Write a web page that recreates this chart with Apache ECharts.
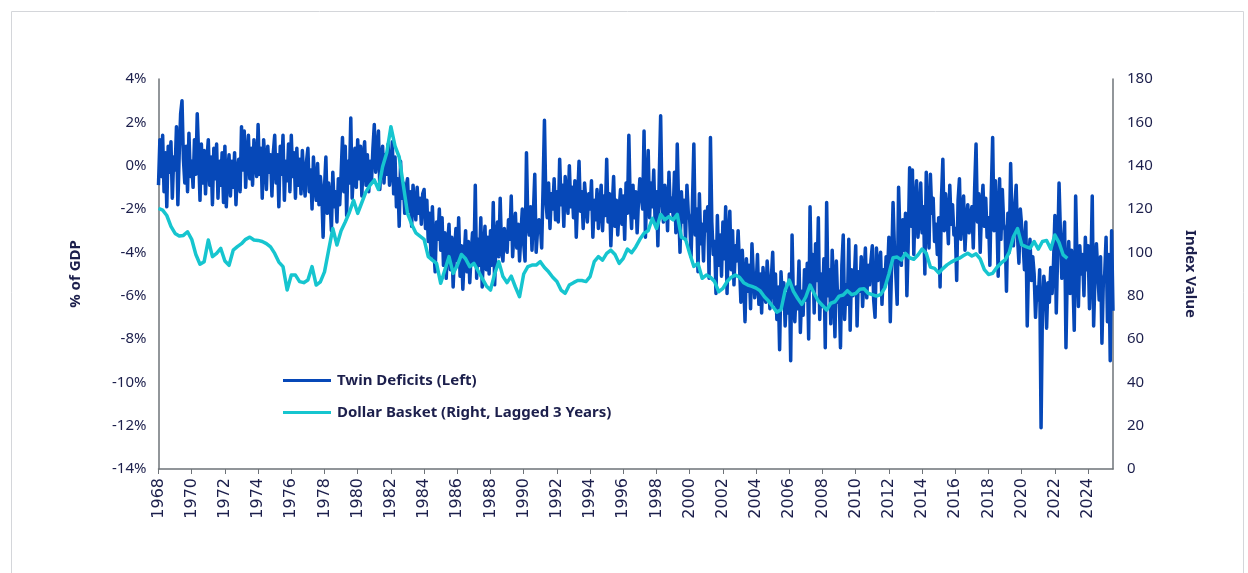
<!DOCTYPE html>
<html>
<head>
<meta charset="utf-8">
<title>Twin Deficits vs Dollar Basket</title>
<script src="https://cdn.jsdelivr.net/npm/echarts@6/dist/echarts.min.js"></script>
<style>
  html, body { margin: 0; padding: 0; background: #fff; }
  #chart { width: 1248px; height: 573px; }
</style>
</head>
<body>
<div id="chart"></div>
<script>
// monthly series starts Jan 1968, quarterly series starts Q1 1968
const startYear = 1968;
const yearTicks = [1968, 1970, 1972, 1974, 1976, 1978, 1980, 1982, 1984, 1986, 1988, 1990, 1992, 1994,
  1996, 1998, 2000, 2002, 2004, 2006, 2008, 2010, 2012, 2014, 2016, 2018, 2020, 2022, 2024];

// Twin deficits, % of GDP, monthly (left axis)
const twinDeficits = [
  -0.9, 1.2, -0.5, 1.4, -1.2, 0.6, -1.9, 0.9, -0.3, 1.1, -1.5, 0.4,
  -0.2, 1.8, -1.8, 0.6, 2.4, 3.0, 0.3, -0.8, 0.9, -1.2, 1.5, -0.5,
  0.2, -1.0, 1.2, -0.4, 2.4, 0.5, -1.6, 1.0, -0.8, 0.7, -1.3, 0.3,
  1.2, -0.9, 0.4, -1.8, 0.8, -0.6, 1.0, -1.5, 0.2, -0.9, 0.6, -1.7,
  0.9, -1.9, -0.3, 0.5, -1.4, 0.2, -1.0, 0.6, -1.8, -0.2, 0.3, -1.2,
  1.8, -0.2, 1.6, -1.0, 0.5, 1.4, -0.6, 0.8, -0.9, 1.2, 0.1, -0.5,
  1.9, -0.4, 0.8, -1.5, 1.2, 0.2, -1.1, 0.9, -0.3, 0.5, -1.4, 0.6,
  1.4, -0.8, 0.5, -1.9, 0.9, -0.4, 1.4, -1.6, 0.2, -0.7, 1.0, -1.2,
  1.4, -0.5, 0.6, -1.5, 0.8, -0.9, 0.3, -1.3, 0.7, -0.6, -1.4, 0.2,
  0.8, -1.2, -0.2, -2.0, 0.4, -0.9, -1.6, 0.1, -1.8, -0.5, -1.2, -3.3,
  -1.0, 0.4, -2.2, -0.8, -1.5, -3.0, -0.3, -1.9, -1.2, -2.6, -0.6, -1.8,
  -0.4, 1.3, -1.2, 0.9, -2.3, 0.2, -0.8, 2.2, -1.5, -0.2, 0.8, -1.0,
  1.2, -0.6, 0.9, -1.4, 0.4, 1.1, -0.9, 0.5, -1.2, 0.2, -0.7, 0.8,
  1.9, -0.3, 0.6, 1.6, -1.1, 0.3, 0.9, -0.8, 0.5, -0.4, 1.0, -0.9,
  -0.2, 1.1, -1.3, 0.4, -1.9, -0.6, -2.8, 0.2, -1.5, -0.8, -2.2, -1.0,
  -0.6, -2.1, -1.2, -2.8, -0.9, -1.8, -2.5, -1.0, -2.2, -1.5, -2.7, -1.3,
  -1.1, -2.9, -1.6, -3.5, -2.2, -4.2, -1.9, -3.8, -4.9, -2.6, -3.4, -2.0,
  -3.9, -2.4, -4.6, -3.1, -5.2, -3.6, -2.7, -4.8, -3.3, -5.6, -4.0, -2.9,
  -4.4, -2.4, -5.1, -3.7, -5.7, -4.2, -3.0, -4.9, -3.5, -5.4, -4.1, -3.1,
  -4.5, -0.9, -5.2, -3.4, -4.6, -2.4, -5.6, -3.9, -2.8, -4.8, -3.3, -5.0,
  -3.0, -4.6, -1.7, -5.5, -3.5, -2.6, -4.2, -1.5, -3.9, -4.4, -2.9, -3.6,
  -4.0, -2.5, -3.4, -1.4, -4.2, -3.0, -2.2, -3.8, -2.7, -4.4, -3.1, -2.0,
  -3.6, -4.4, 0.6, -2.6, -3.2, -1.9, -3.9, -2.2, -0.4, -4.0, -3.0, -2.5,
  -2.7, -3.8, -1.0, 2.1, -1.6, -2.4, -0.8, -2.9, -1.3, -2.0, -0.6, -2.5,
  -1.2, -2.6, 0.3, -1.8, -0.9, -2.8, -0.5, -1.5, -2.2, 0.0, -1.9, -1.0,
  -2.4, -0.7, -3.3, -1.5, 0.2, -2.1, -1.2, -2.9, -0.8, -1.7, -2.6, -1.3,
  -2.0, -0.7, -3.3, -1.6, -2.5, -1.1, -2.9, -1.9, -0.9, -3.0, -1.4, -2.3,
  0.3, -2.6, -1.3, -3.7, -1.9, -0.5, -2.8, -1.6, -3.2, -2.0, -1.1, -2.7,
  -1.4, -3.4, -0.8, -2.2, 1.4, -1.7, -2.9, -0.9, -2.4, -1.2, -3.1, -1.6,
  -0.6, -1.4, -2.0, 1.6, -3.3, -1.0, 0.7, -2.4, -0.8, -1.9, -0.2, -2.6,
  -1.2, -3.7, -0.5, 2.3, -1.8, -2.6, -0.9, -1.4, -3.0, -0.3, -2.1, -1.5,
  -2.3, -0.3, -3.1, 1.0, -1.9, -4.0, -1.2, -2.6, -1.6, -3.4, -0.9, -2.2,
  -2.5, -4.2, -1.7, 1.0, -3.2, -2.0, -4.9, -1.3, -3.6, -2.7, -4.4, -2.1,
  -3.0, -1.9, -5.2, 1.3, -2.6, -4.1, -3.5, -5.9, -2.3, -4.6, -3.2, -5.1,
  -2.6, -4.3, -1.9, -5.9, -3.4, -2.1, -4.8, -3.0, -5.5, -3.7, -4.4, -3.0,
  -4.6, -6.3, -3.9, -5.3, -7.2, -4.3, -5.8, -4.6, -6.6, -3.6, -5.0, -6.1,
  -5.6, -4.1, -6.4, -5.0, -6.8, -4.7, -5.9, -6.3, -4.4, -5.5, -6.6, -5.2,
  -4.0, -6.4, -5.0, -7.1, -5.6, -8.5, -4.9, -6.2, -5.4, -7.4, -5.9, -6.8,
  -5.0, -9.0, -3.2, -6.3, -7.2, -5.6, -6.6, -4.4, -7.7, -5.8, -6.9, -4.8,
  -6.2, -4.5, -8.0, -1.9, -5.7, -4.1, -6.8, -3.6, -5.3, -2.4, -7.1, -5.0,
  -6.5, -4.3, -8.4, -1.7, -6.0, -4.8, -7.3, -3.9, -5.6, -7.9, -4.4, -6.3,
  -5.8, -8.4, -4.6, -3.2, -7.1, -5.5, -6.4, -3.4, -7.6, -4.8, -6.0, -5.2,
  -3.7, -7.4, -4.9, -5.8, -4.2, -6.5, -5.1, -3.8, -6.1, -4.6, -5.5, -4.4,
  -3.7, -6.2, -7.0, -3.8, -5.3, -4.5, -4.0, -6.4, -4.8, -5.6, -4.2, -5.0,
  -3.3, -7.2, -4.5, -1.7, -3.8, -5.0, -6.4, -1.0, -3.2, -4.6, -2.5, -3.9,
  -2.2, -6.0, -3.5, -0.1, -2.8, -0.2, -4.1, -1.8, -0.7, -3.3, -2.4, -0.8,
  -3.1, -1.9, -5.0, -0.3, -2.6, -3.8, -0.4, -2.2, -1.5, -3.5, -2.7, -4.1,
  -2.4, -5.6, -1.5, 0.3, -3.0, -1.3, -2.2, -3.6, -0.9, -2.7, -1.8, -3.2,
  -2.9, -5.3, -1.6, -0.6, -3.4, -2.1, -1.4, -3.9, -2.5, -1.8, -3.1, -2.3,
  -1.9, -3.8, -1.0, 1.0, -2.6, -1.3, -4.0, -2.0, -0.9, -2.8, -1.5, -3.3,
  -2.4, -4.6, -1.3, 1.3, -3.0, -0.7, -2.2, -5.1, -0.6, -3.4, -1.1, -2.7,
  -3.0, -5.8, -2.2, -4.0, 0.1, -2.6, -3.7, -1.9, -0.9, -3.3, -4.5, -2.0,
  -2.0, -3.6, -4.8, -2.6, -7.4, -4.4, -3.4, -5.3, -4.2, -5.0, -7.0, -5.6,
  -6.2, -4.8, -12.1, -6.5, -5.1, -5.8, -7.5, -5.4, -6.3, -4.7, -5.9, -4.5,
  -2.3, -6.8, -4.0, -0.8, -3.1, -5.2, -3.8, -2.6, -8.4, -4.7, -3.5, -5.9,
  -3.9, -5.2, -7.6, -1.4, -4.4, -6.5, -3.7, -5.0, -4.1, -6.0, -3.3, -4.8,
  -3.7, -6.6, -4.8, -1.4, -7.4, -5.1, -3.6, -4.9, -6.2, -4.2, -8.2, -5.4,
  -5.0, -3.3, -7.2, -4.1, -9.0, -3.0, -6.7
];

// Dollar basket index, lagged 3 years, quarterly (right axis)
const dollarBasket = [
  120.3, 119.5, 117.0, 112.0,  108.7, 107.5, 107.8, 109.5,  106.0, 99.0, 94.5, 95.7,
  105.7, 98.0, 99.5, 101.8,  96.0, 94.0, 101.0, 102.6,  104.0, 106.0, 107.0, 105.7,
  105.5, 105.0, 104.0, 102.5,  99.5, 95.5, 93.4, 82.6,  89.5, 89.5, 86.5, 86.0,
  87.2, 93.4, 84.9, 86.4,  91.0, 101.0, 111.0, 103.4,  110.0, 114.0, 118.5, 124.0,
  118.0, 123.0, 128.0, 131.0,  133.4, 129.0, 139.5, 146.0,  158.0, 149.0, 144.0, 131.0,
  118.0, 113.0, 109.0, 107.5,  106.0, 98.0, 96.4, 94.9,  85.7, 91.8, 98.0, 90.3,
  94.0, 99.0, 97.0, 93.4,  94.9, 91.5, 88.0, 84.5,  82.6, 90.0, 95.7, 88.8,
  86.0, 89.0, 84.0, 79.5,  90.0, 93.4, 94.1, 94.1,  95.7, 93.0, 91.0, 88.5,
  86.5, 82.6, 81.1, 84.9,  86.0, 87.0, 87.0, 86.5,  88.8, 95.7, 98.0, 96.4,
  99.5, 101.0, 99.0, 94.9,  97.2, 101.5, 99.8, 102.5,  106.0, 108.8, 110.0, 115.7,
  111.0, 117.5, 115.0, 116.5,  115.0, 117.5, 107.0, 106.0,  99.5, 93.5, 94.9, 88.0,
  89.5, 88.5, 86.5, 81.8,  83.4, 86.5, 88.5, 89.5,  88.5, 86.0, 84.9, 84.3,
  83.5, 82.2, 79.5, 77.5,  75.0, 72.4, 73.5, 82.5,  87.2, 82.0, 78.8, 76.0,
  79.5, 84.9, 81.0, 77.5,  75.5, 73.4, 76.5, 77.2,  79.8, 80.3, 82.3, 80.5,
  81.0, 83.0, 83.2, 81.1,  80.5, 79.8, 80.5, 83.5,  90.0, 97.5, 97.8, 96.5,
  99.5, 97.5, 96.8, 98.8,  101.5, 99.6, 93.2, 92.6,  90.5, 92.5, 94.2, 95.5,
  96.5, 97.3, 98.5, 99.6,  98.3, 99.3, 97.0, 92.0,  89.8, 90.3, 93.0, 95.0,
  96.5, 100.0, 107.2, 111.0,  103.5, 102.6, 101.9, 105.0,  101.5, 105.0, 105.5, 101.5,
  108.0, 104.5, 98.8, 97.2
];

const textColor = '#1c1f4c';
const axisColor = '#6e7378';
const tdColor = '#0648b8';
const dbColor = '#16c5cf';

const tdData = twinDeficits.map((v, i) => [startYear + i / 12, v]);
const dbData = dollarBasket.map((v, i) => [startYear + i / 4, v]);

const chart = echarts.init(document.getElementById('chart'), null, { renderer: 'canvas' });

chart.setOption({
  backgroundColor: '#fff',
  animation: false,
  textStyle: { fontFamily: 'Noto Sans', color: textColor },
  graphic: [{
    type: 'rect',
    shape: { x: 11.5, y: 11.5, width: 1232, height: 620 },
    style: { fill: 'none', stroke: '#d4d6da', lineWidth: 1 },
    silent: true
  }],
  grid: {
    left: 158.5, right: 135, top: 79, bottom: 104,
    outerBoundsMode: 'none'
  },
  legend: {
    orient: 'vertical',
    left: 278, top: 368,
    icon: 'rect',
    itemWidth: 48, itemHeight: 3, itemGap: 17,
    textStyle: { fontFamily: 'Noto Sans', fontSize: 15, fontWeight: 'bold', color: textColor, padding: [0, 0, 0, 1] },
    data: ['Twin Deficits (Left)', 'Dollar Basket (Right, Lagged 3 Years)']
  },
  xAxis: {
    type: 'value',
    min: startYear, max: 2025.5,
    interval: 2,
    splitLine: { show: false },
    axisLine: { show: true, onZero: false, lineStyle: { color: axisColor, width: 1.5 } },
    axisTick: { show: true, length: 5, customValues: yearTicks, lineStyle: { color: axisColor } },
    axisLabel: {
      customValues: yearTicks,
      rotate: 90, margin: 9,
      fontFamily: 'DejaVu Sans', fontSize: 16, color: textColor,
      formatter: v => String(v)
    }
  },
  yAxis: [{
    type: 'value',
    min: -14, max: 4, interval: 2,
    name: '% of GDP', nameLocation: 'middle', nameGap: 75, nameRotate: 90,
    nameTextStyle: { fontFamily: 'Noto Sans', fontSize: 15, fontWeight: 'bold', color: textColor },
    splitLine: { show: false },
    axisLine: { show: true, lineStyle: { color: axisColor, width: 1.5 } },
    axisTick: { show: false },
    axisLabel: { fontSize: 15, color: textColor, margin: 12, formatter: v => v + '%' }
  }, {
    type: 'value',
    min: 0, max: 180, interval: 20,
    position: 'right',
    name: 'Index Value', nameLocation: 'middle', nameGap: 70, nameRotate: -90,
    nameTextStyle: { fontFamily: 'Noto Sans', fontSize: 15, fontWeight: 'bold', color: textColor },
    splitLine: { show: false },
    axisLine: { show: true, lineStyle: { color: axisColor, width: 1.5 } },
    axisTick: { show: false },
    axisLabel: { fontSize: 15, color: textColor, margin: 14 }
  }],
  series: [{
    name: 'Twin Deficits (Left)',
    type: 'line',
    yAxisIndex: 0,
    data: tdData,
    showSymbol: false, symbol: 'none',
    color: tdColor,
    lineStyle: { width: 3.5, color: tdColor, join: 'round' },
    z: 2
  }, {
    name: 'Dollar Basket (Right, Lagged 3 Years)',
    type: 'line',
    yAxisIndex: 1,
    data: dbData,
    showSymbol: false, symbol: 'none',
    color: dbColor,
    lineStyle: { width: 3.5, color: dbColor, join: 'round' },
    z: 3
  }]
});
</script>
</body>
</html>
